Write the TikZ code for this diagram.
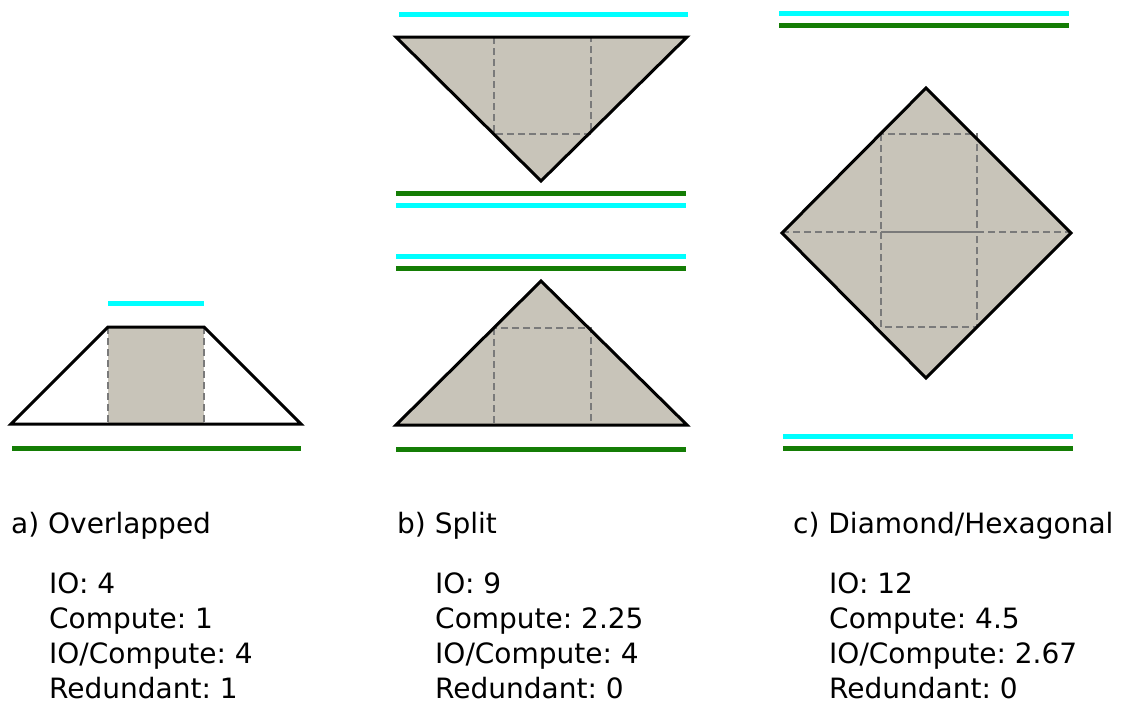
\documentclass[tikz,border=0pt]{standalone}
\usepackage{fontspec}
\setmainfont{DejaVu Sans}
\frenchspacing
\usetikzlibrary{positioning}
\definecolor{tilefill}{RGB}{200,196,185}
\definecolor{tilegreen}{RGB}{20,125,5}
\definecolor{rowcyan}{RGB}{0,255,255}

\begin{document}
\begin{tikzpicture}[
  x=1pt,y=-1pt,
  outline/.style={draw=black,line width=3pt,line join=miter},
  tile/.style={fill=tilefill},
  block/.style={draw=black!52,line width=2.4pt,dash pattern=on 7pt off 4pt},
  readrow/.style={rowcyan,line width=5pt},
  writerow/.style={tilegreen,line width=5pt},
  caption/.style={anchor=base west,inner sep=0pt,font=\fontsize{28}{35}\selectfont},
  stats/.style={caption,align=left}
]
  \useasboundingbox (0,0) rectangle (1123,704);

  % a) overlapped
  \fill[tile] (108,327) rectangle (204,424);
  \draw[block] (108,327) -- (108,424) (204,327) -- (204,424);
  \draw[outline] (11,424) -- (108,327) -- (204,327) -- (301,424) -- cycle;
  \draw[readrow] (108,303) -- (204,303);
  \draw[writerow] (12,448) -- (301,448);

  % b) split, upper half
  \draw[readrow] (399,14) -- (688,14);
  \fill[tile] (396,37) -- (687,37) -- (541,181) -- cycle;
  \draw[block] (494,37) rectangle (591,134);
  \draw[outline] (396,37) -- (687,37) -- (541,181) -- cycle;
  \draw[writerow] (396,193) -- (686,193);
  \draw[readrow] (396,205) -- (686,205);

  % b) split, lower half
  \draw[readrow] (396,256) -- (686,256);
  \draw[writerow] (396,268) -- (686,268);
  \fill[tile] (541,281) -- (687,425) -- (396,425) -- cycle;
  \draw[block] (494,328) rectangle (591,425);
  \draw[outline] (541,281) -- (687,425) -- (396,425) -- cycle;
  \draw[writerow] (396,449) -- (686,449);

  % c) diamond
  \draw[readrow] (779,13) -- (1069,13);
  \draw[writerow] (779,25) -- (1069,25);
  \fill[tile] (926,88) -- (1071,233) -- (926,378) -- (782,233) -- cycle;
  \draw[block] (881,134) rectangle (977,232);
  \draw[block] (881,232) rectangle (977,327);
  \draw[block] (782,232) -- (881,232) (977,232) -- (1071,232);
  \draw[block,solid] (881,232) -- (977,232);
  \draw[outline] (926,88) -- (1071,233) -- (926,378) -- (782,233) -- cycle;
  \draw[readrow] (783,436) -- (1073,436);
  \draw[writerow] (783,448) -- (1073,448);

  % labels (stats are placed by the baseline of their last line)
  \node[caption] (capa) at (11,533) {a) Overlapped};
  \node[caption] (capb) at (397,533) {b) Split};
  \node[caption] (capc) at (793,533) {c) Diamond/Hexagonal};
  \node[stats] (statsa) at (49,698) {IO: 4\\Compute: 1\\IO/Compute: 4\\Redundant: 1};
  \node[stats] (statsb) at (435,698) {IO: 9\\Compute: 2.25\\IO/Compute: 4\\Redundant: 0};
  \node[stats] (statsc) at (829,698) {IO: 12\\Compute: 4.5\\IO/Compute: 2.67\\Redundant: 0};
\end{tikzpicture}
\end{document}
